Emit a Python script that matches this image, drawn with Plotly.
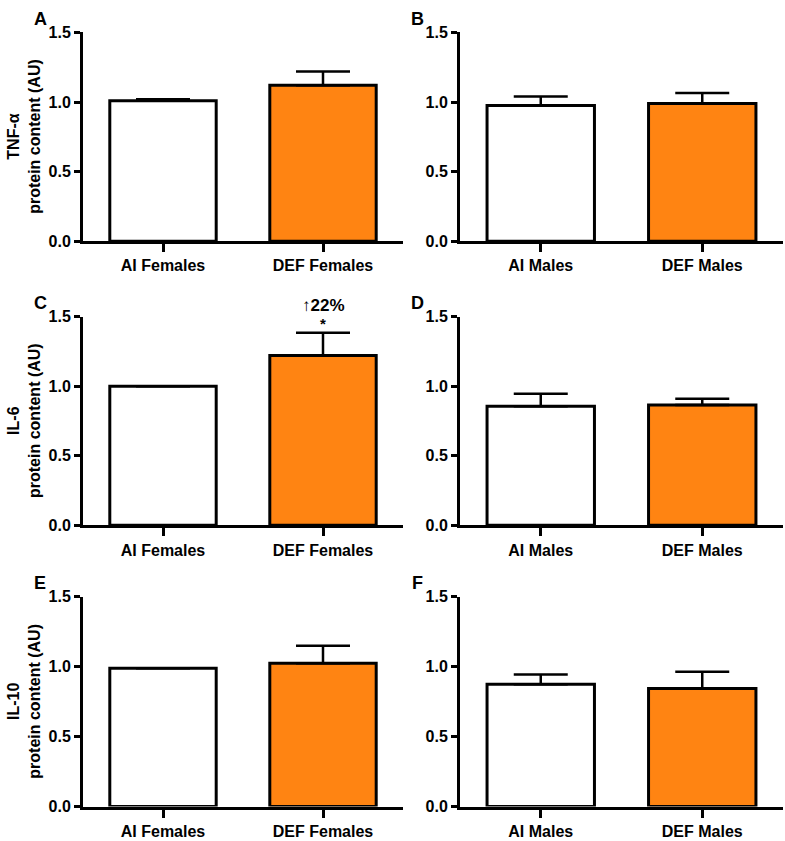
import plotly.graph_objects as go
from plotly.subplots import make_subplots

# grupos por columna
female_groups = ["AI Females", "DEF Females"]
male_groups = ["AI Males", "DEF Males"]

cytokines = ["TNF-α", "IL-6", "IL-10"]
panel_letters = ["A", "B", "C", "D", "E", "F"]

# medias y SEM
tnf_female = [1.01, 1.12]
tnf_female_err = [0.01, 0.10]
tnf_male = [0.975, 0.99]
tnf_male_err = [0.065, 0.075]

il6_female = [1.0, 1.22]
il6_female_err = [0.0, 0.165]
il6_male = [0.855, 0.865]
il6_male_err = [0.09, 0.045]

il10_female = [0.99, 1.025]
il10_female_err = [0.0, 0.125]
il10_male = [0.875, 0.845]
il10_male_err = [0.07, 0.12]

y_ticks = [0.0, 0.5, 1.0, 1.5]
y_max = 1.5

ORANGE = "#FF8412"
W, H = 785, 841
FONT = "Liberation Sans, Arial, sans-serif"

panels = [
    (female_groups, tnf_female, tnf_female_err),
    (male_groups, tnf_male, tnf_male_err),
    (female_groups, il6_female, il6_female_err),
    (male_groups, il6_male, il6_male_err),
    (female_groups, il10_female, il10_female_err),
    (male_groups, il10_male, il10_male_err),
]

# dominios en píxeles (izq, der) y (arriba, abajo)
col_px = [(83, 403), (460, 783)]
row_px = [(25, 238), (315, 528), (601, 815)]

fig = make_subplots(rows=3, cols=2)

for i, (groups, vals, errs) in enumerate(panels):
    r, c = i // 2 + 1, i % 2 + 1
    fig.add_trace(
        go.Bar(
            x=[0, 1],
            y=vals,
            width=0.665,
            marker=dict(color=["white", ORANGE], line=dict(color="black", width=3)),
            error_y=dict(
                type="data", symmetric=False, array=errs, arrayminus=[0, 0],
                color="black", thickness=2.5, width=27,
            ),
            showlegend=False,
            hoverinfo="skip",
        ),
        row=r, col=c,
    )
    x0, x1 = col_px[c - 1]
    y0, y1 = row_px[r - 1]
    fig.update_xaxes(
        domain=[x0 / W, x1 / W], range=[-0.5, 1.5],
        tickvals=[0, 1], ticktext=groups,
        showline=True, linewidth=3, linecolor="black",
        ticks="outside", ticklen=8, tickwidth=3, tickcolor="black",
        showgrid=False, zeroline=False, fixedrange=True,
        tickfont=dict(family=FONT, size=16, color="black", weight="bold"),
        row=r, col=c,
    )
    fig.update_yaxes(
        domain=[1 - y1 / H, 1 - y0 / H], range=[0, y_max],
        tickvals=y_ticks, tickformat=".1f",
        showline=True, linewidth=3, linecolor="black",
        ticks="outside", ticklen=6, tickwidth=3, tickcolor="black",
        showgrid=False, zeroline=False, fixedrange=True,
        tickfont=dict(family=FONT, size=16, color="black", weight="bold"),
        row=r, col=c,
    )
    # letra del panel
    fig.add_annotation(
        x=(x0 - 43) / W, y=1 - (y0 - 14) / H, xref="paper", yref="paper",
        text="<b>%s</b>" % panel_letters[i], showarrow=False,
        font=dict(family=FONT, size=18, color="black"),
        xanchor="center", yanchor="middle",
    )

# títulos del eje y (solo columna izquierda)
for k, name in enumerate(cytokines):
    y0, y1 = row_px[k]
    fig.add_annotation(
        x=24 / W, y=1 - (y0 + y1) / 2 / H, xref="paper", yref="paper",
        text="<b>%s<br>protein content (AU)</b>" % name, textangle=-90,
        showarrow=False, font=dict(family=FONT, size=16, color="black"),
        xanchor="center", yanchor="middle",
    )

# significancia en IL-6 hembras (en unidades del dominio del eje)
top = (il6_female[1] + il6_female_err[1]) / y_max
fig.add_annotation(x=1, y=top + 0.095, xref="x3", yref="y3 domain", text="<b>*</b>",
                   showarrow=False, font=dict(family=FONT, size=15, color="black"))
fig.add_annotation(x=1, y=top + 0.185, xref="x3", yref="y3 domain", text="<b>↑22%</b>",
                   showarrow=False, font=dict(family=FONT, size=17, color="black"))

fig.update_layout(
    width=W, height=H,
    margin=dict(l=0, r=0, t=0, b=0),
    plot_bgcolor="white", paper_bgcolor="white",
)

fig.write_html(
    "out.html",
    config={"displayModeBar": False},
    post_script="document.body.style.margin='0';document.body.style.overflow='hidden';",
)
